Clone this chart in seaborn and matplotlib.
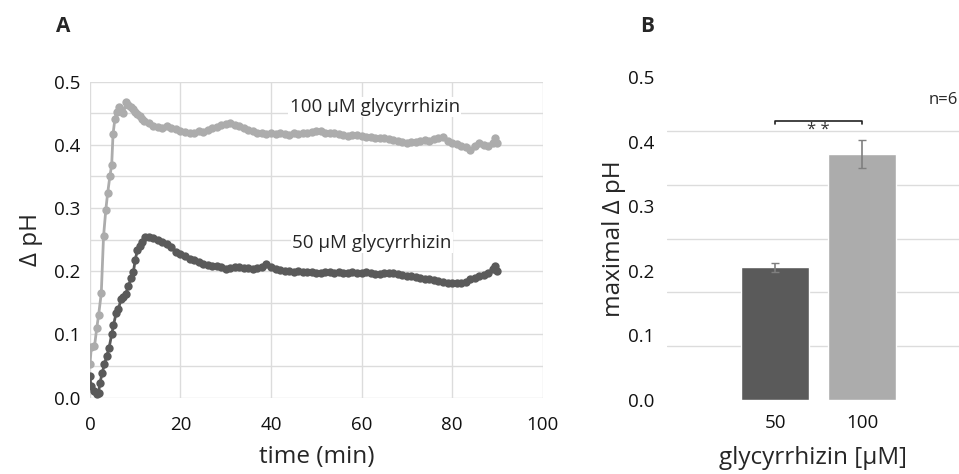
import numpy as np
import pandas as pd
import matplotlib
matplotlib.use("Agg")
import matplotlib.pyplot as plt
import seaborn as sns

# panel A: pH change over time
time_100 = [0, 0.3, 1.0, 1.5, 1.9, 2.5, 3.0, 3.5, 3.9, 4.4, 4.8, 5.1, 5.5, 5.9, 6.4, 6.9,
            7.4, 8.0, 8.5, 9.0, 9.5, 10, 10.5, 11, 11.5, 12] + list(range(13, 89)) + [89, 89.5, 90]
dph_100 = [0.053, 0.080, 0.081, 0.110, 0.130, 0.165, 0.255, 0.297, 0.323, 0.350, 0.368, 0.417,
           0.440, 0.452, 0.459, 0.455, 0.451, 0.467, 0.463, 0.460, 0.456, 0.452, 0.449, 0.445,
           0.441, 0.438,
           0.434, 0.430, 0.428, 0.427, 0.429, 0.426, 0.425, 0.422, 0.420, 0.418,   # 13-22
           0.419, 0.421, 0.420, 0.423, 0.426, 0.428, 0.431, 0.433, 0.434, 0.432,   # 23-32
           0.429, 0.426, 0.424, 0.421, 0.419, 0.418, 0.417, 0.418, 0.417, 0.418,   # 33-42
           0.417, 0.416, 0.418, 0.417, 0.419, 0.419, 0.420, 0.421, 0.421, 0.419,   # 43-52
           0.419, 0.418, 0.417, 0.416, 0.414, 0.415, 0.416, 0.414, 0.413, 0.412,   # 53-62
           0.411, 0.410, 0.411, 0.409, 0.408, 0.406, 0.404, 0.402, 0.404, 0.405,   # 63-72
           0.406, 0.407, 0.406, 0.409, 0.410, 0.412, 0.406, 0.402, 0.401, 0.398,   # 73-82
           0.396, 0.392, 0.398, 0.403, 0.400, 0.398,                               # 83-88
           0.402, 0.410, 0.402]

time_50 = [0, 0.2, 1.0, 1.5, 1.9, 2.2, 2.7, 3.2, 3.7, 4.2, 4.8, 5.2, 5.8, 6.3, 6.9, 7.4, 7.9,
           8.5, 9.1, 9.6, 10.0, 10.5, 11.1, 11.6, 12.2] + list(range(13, 90)) + [89.5, 90]
dph_50 = [0.035, 0.019, 0.010, 0.006, 0.008, 0.023, 0.039, 0.053, 0.066, 0.078, 0.100, 0.115,
          0.134, 0.141, 0.156, 0.160, 0.164, 0.177, 0.189, 0.199, 0.218, 0.234, 0.240, 0.247,
          0.254,
          0.254, 0.252, 0.249, 0.246, 0.243, 0.239, 0.231, 0.228, 0.224, 0.220,   # 13-22
          0.218, 0.215, 0.212, 0.210, 0.208, 0.208, 0.207, 0.204, 0.205, 0.206,   # 23-32
          0.206, 0.205, 0.205, 0.204, 0.205, 0.206, 0.211, 0.206, 0.204, 0.202,   # 33-42
          0.201, 0.201, 0.199, 0.200, 0.198, 0.198, 0.199, 0.197, 0.197, 0.198,   # 43-52
          0.198, 0.197, 0.198, 0.197, 0.197, 0.198, 0.197, 0.197, 0.198, 0.197,   # 53-62
          0.196, 0.196, 0.197, 0.197, 0.197, 0.195, 0.194, 0.193, 0.193, 0.191,   # 63-72
          0.190, 0.188, 0.187, 0.186, 0.184, 0.183, 0.182, 0.181, 0.181, 0.181,   # 73-82
          0.183, 0.187, 0.190, 0.192, 0.194, 0.197, 0.203,                        # 83-89
          0.208, 0.200]

# panel B: maximal pH change
conc_labels = ["50", "100"]
max_dph = [0.206, 0.381]
max_dph_err = [0.007, 0.022]
b_ticks = [0.0, 0.1, 0.2, 0.3, 0.4, 0.5]

light = "#acacac"
dark = "#5a5a5a"

sns.set_style("white")
plt.rcParams["font.family"] = ["Open Sans", "DejaVu Sans"]

fig = plt.figure(figsize=(9.59, 4.74), dpi=100)
ax = fig.add_axes([0.0938, 0.161, 0.472, 0.667])
bx = fig.add_axes([0.695, 0.156, 0.305, 0.681])

# ---- panel A
df_a = pd.concat([
    pd.DataFrame({"time": time_100, "dph": dph_100, "conc": "100"}),
    pd.DataFrame({"time": time_50, "dph": dph_50, "conc": "50"}),
])
sns.lineplot(data=df_a, x="time", y="dph", hue="conc", palette={"100": light, "50": dark},
             marker="o", markersize=6, markeredgewidth=0, linewidth=2,
             legend=False, ax=ax, sort=False)
ax.set_xlim(0, 100)
ax.set_ylim(0, 0.5)
ax.set_xticks(range(0, 101, 20))
ax.set_yticks(np.arange(0, 0.51, 0.1))
ax.set_yticklabels([f"{v:.1f}" for v in np.arange(0, 0.51, 0.1)])
ax.set_yticks(np.arange(0.05, 0.5, 0.1), minor=True)
ax.grid(True, which="both", color="#dcdcdc", linewidth=1)
ax.tick_params(axis="x", which="minor", bottom=False)
ax.tick_params(length=0, labelsize=13.5, colors="#111111")
ax.tick_params(axis="y", pad=7)
ax.tick_params(axis="x", pad=13)
for s in ax.spines.values():
    s.set_visible(False)
ax.set_axisbelow(True)
ax.set_xlabel("time (min)", fontsize=17.5, labelpad=8)
ax.set_ylabel("Δ pH", fontsize=17.5, labelpad=8)
ax.text(62.9, 0.46, "100 µM glycyrrhizin", fontsize=13.5, ha="center", va="center",
        bbox=dict(facecolor="white", edgecolor="none", pad=1))
ax.text(62.2, 0.245, "50 µM glycyrrhizin", fontsize=13.5, ha="center", va="center",
        bbox=dict(facecolor="white", edgecolor="none", pad=1))

# ---- panel B
df_b = pd.DataFrame({"conc": conc_labels, "max": max_dph})
sns.barplot(data=df_b, x="conc", y="max", hue="conc", palette=[dark, light],
            width=0.78, errorbar=None, legend=False, ax=bx)
bx.errorbar(range(len(conc_labels)), max_dph, yerr=max_dph_err, fmt="none",
            ecolor="#7f7f7f", elinewidth=1.2, capsize=3)
bx.set_xlim(-1.253, 2.114)
bx.set_ylim(0, 0.5)
bx.set_yticks(b_ticks)
bx.set_yticklabels([f"{v:.1f}" for v in b_ticks])
bx.set_yticks(np.linspace(0, 0.5, 7), minor=True)
bx.yaxis.grid(True, which="minor", color="#dcdcdc", linewidth=1)
bx.yaxis.grid(False, which="major")
bx.set_axisbelow(True)
bx.tick_params(length=0, labelsize=13.5, pad=9, colors="#111111")
bx.tick_params(axis="x", pad=10)
for s in bx.spines.values():
    s.set_visible(False)
bx.set_xlabel("glycyrrhizin [µM]", fontsize=17.5, labelpad=10)
bx.set_ylabel("maximal Δ pH", fontsize=17.5, labelpad=1)

# significance bracket
yb = 0.433
bx.plot([0, 0, 1, 1], [yb - 0.006, yb, yb, yb - 0.006], color="#222222", lw=1.2)
bx.text(0.5, yb - 0.002, "* *", ha="center", va="top", fontsize=12, color="#333333")
bx.text(2.1, 0.465, "n=6", ha="right", va="center", fontsize=12)

fig.text(0.066, 0.945, "A", fontsize=15, fontweight="bold", ha="center", va="center")
fig.text(0.675, 0.945, "B", fontsize=15, fontweight="bold", ha="center", va="center")

fig.savefig("out.png", dpi=100)
